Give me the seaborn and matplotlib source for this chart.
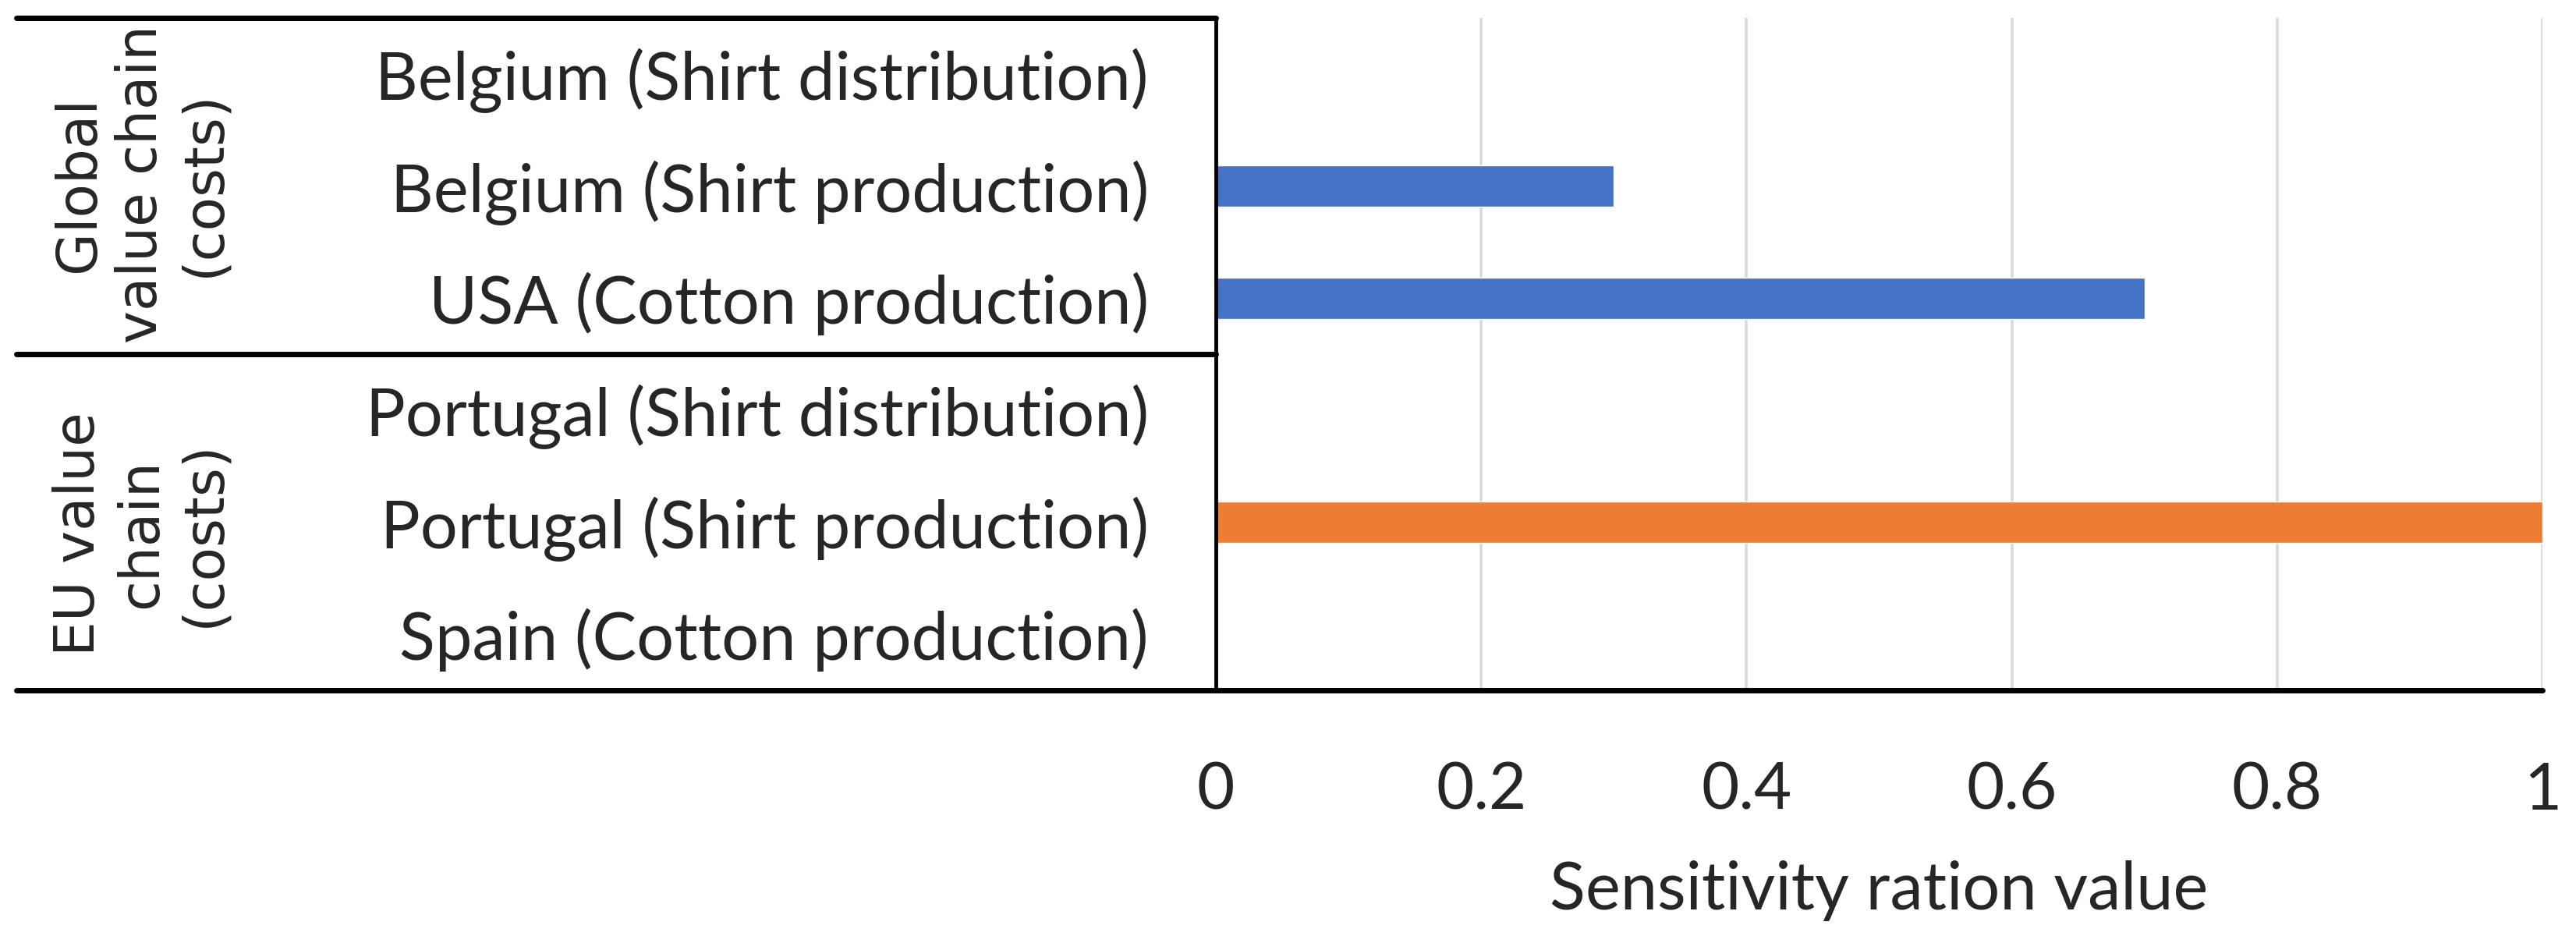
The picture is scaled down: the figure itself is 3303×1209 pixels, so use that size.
import numpy as np
import pandas as pd
import matplotlib
matplotlib.use('Agg')
import matplotlib.pyplot as plt
from matplotlib.lines import Line2D
from matplotlib.font_manager import FontProperties
import seaborn as sns

# data, top to bottom as in the chart
labels = ['Belgium (Shirt distribution)', 'Belgium (Shirt production)', 'USA (Cotton production)',
          'Portugal (Shirt distribution)', 'Portugal (Shirt production)', 'Spain (Cotton production)']
values = [0.0, 0.3, 0.7, 0.0, 1.0, 0.0]
groups = ['Global', 'Global', 'Global', 'EU', 'EU', 'EU']
group_titles = ['Global\nvalue chain\n(costs)', 'EU value\nchain\n(costs)']
x_ticks = [0, 0.2, 0.4, 0.6, 0.8, 1]
x_ticklabels = ['0', '0.2', '0.4', '0.6', '0.8', '1']
x_label = 'Sensitivity ration value'

BLUE = '#4472C4'
ORANGE = '#ED7D31'
GRID = '#D9D9D9'


def main():
    sns.set_style('white')
    plt.rcParams['font.family'] = ['Lato', 'DejaVu Sans']

    df = pd.DataFrame({'label': labels, 'value': values, 'group': groups})

    fig = plt.figure(figsize=(33.03, 12.09), dpi=100)
    ax = fig.add_axes([0.472, 0.268, 0.515, 0.713])

    sns.barplot(data=df, y='label', x='value', hue='group', palette=[BLUE, ORANGE],
                dodge=False, width=0.37, orient='h', legend=False, ax=ax,
                order=labels, hue_order=['Global', 'EU'], saturation=1)

    ax.set_xlim(0, 1)
    ax.set_ylim(5.5, -0.5)
    ax.set_xticks(x_ticks)
    ax.set_xticklabels(x_ticklabels, fontsize=60)
    ax.tick_params(axis='x', length=0, pad=66)
    ax.tick_params(axis='y', length=0, pad=62, labelsize=61)
    ax.set_ylabel('')
    ax.set_xlabel(x_label, fontsize=61, labelpad=36)

    ax.xaxis.grid(True, color=GRID, lw=2.6)
    ax.yaxis.grid(False)
    ax.set_axisbelow(True)

    for s in ['top', 'right', 'bottom']:
        ax.spines[s].set_visible(False)
    ax.spines['left'].set_color('black')
    ax.spines['left'].set_linewidth(3.5)

    # frame lines for the grouped category axis
    x0 = (0.0064 - 0.472) / 0.515
    trans = ax.transAxes
    for xs, ys in [([x0, 1.0], [0, 0]), ([x0, 0], [1, 1])]:
        ax.add_line(Line2D(xs, ys, transform=trans, color='black', lw=5, clip_on=False))
    # separator between groups at y = 2.5 (data)
    sep = ax.get_yaxis_transform()
    ax.add_line(Line2D([x0, 0], [2.5, 2.5], transform=sep, color='black', lw=5, clip_on=False))

    # rotated group titles (wider face, like the original)
    gfont = FontProperties(family='DejaVu Sans', size=51)
    fig.text(0.055, 0.805, group_titles[0], rotation=90, ha='center', va='center',
             multialignment='center', fontproperties=gfont, linespacing=1.2)
    fig.text(0.055, 0.434, group_titles[1], rotation=90, ha='center', va='center',
             multialignment='center', fontproperties=gfont, linespacing=1.2)

    fig.savefig('out.png', dpi=100)
    plt.close(fig)


if __name__ == '__main__':
    main()
